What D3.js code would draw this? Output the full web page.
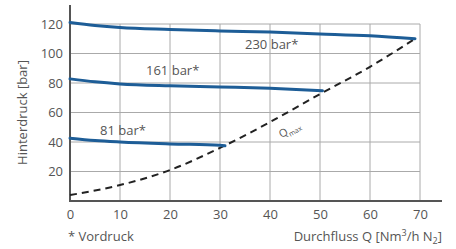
<!DOCTYPE html>
<html>
<head>
<meta charset="utf-8">
<script src="https://cdn.jsdelivr.net/npm/d3@7"></script>
<style>
  body { margin: 0; background: #fff; }
  text { font-family: "Open Sans", sans-serif; fill: #555; }
</style>
</head>
<body>
<div id="plot"></div>
<script>
// Values
var xTicks = [0, 10, 20, 30, 40, 50, 60, 70];
var yTicks = [20, 40, 60, 80, 100, 120];

var q230 = [0, 5, 10, 20, 30, 40, 50, 60, 69];
var p230 = [121, 119, 117.6, 116.3, 115.3, 114.5, 113.3, 112, 110];

var q161 = [0, 5, 10, 20, 30, 40, 50.5];
var p161 = [82.8, 80.8, 79.4, 78.1, 77.3, 76.4, 74.8];

var q81 = [0, 5, 10, 20, 30, 31];
var p81 = [42.6, 41, 40, 38.7, 37.8, 37.4];

var qMax = [0, 10, 20, 30, 40, 50, 60, 69];
var pMax = [4, 10.8, 21, 36, 53.5, 72.5, 91, 110];

var seriesLabels = ["230 bar*", "161 bar*", "81 bar*"];

var margin = {top: 24, right: 36, bottom: 48, left: 70},
    width = 456 - margin.left - margin.right,
    height = 249 - margin.top - margin.bottom;

var svg = d3.select("#plot")
  .append("svg")
    .attr("width", 456)
    .attr("height", 249)
  .append("g")
    .attr("transform", `translate(${margin.left},${margin.top})`);

var x = d3.scaleLinear().domain([0, 70]).range([0, 350]);
var y = d3.scaleLinear().domain([0, 120]).range([177, 0]);

// grid
svg.append("g")
  .selectAll("line.v")
  .data(xTicks.slice(1))
  .enter().append("line")
    .attr("x1", d => x(d)).attr("x2", d => x(d))
    .attr("y1", y(0)).attr("y2", y(120))
    .attr("stroke", "#aaa").attr("stroke-width", 1);
svg.append("g")
  .selectAll("line.h")
  .data(yTicks)
  .enter().append("line")
    .attr("x1", x(0)).attr("x2", x(70))
    .attr("y1", d => y(d)).attr("y2", d => y(d))
    .attr("stroke", "#aaa").attr("stroke-width", 1);

// axes
var xAxis = svg.append("g")
  .attr("transform", `translate(0,${y(0)})`)
  .call(d3.axisBottom(x).tickValues(xTicks).tickSize(0).tickPadding(9));
xAxis.select(".domain").remove();
xAxis.selectAll("text").style("font-size", "13px").attr("fill", "#555");

var yAxis = svg.append("g")
  .call(d3.axisLeft(y).tickValues(yTicks).tickSize(0).tickPadding(7));
yAxis.select(".domain").remove();
yAxis.selectAll("text").style("font-size", "13px").attr("fill", "#555");

svg.append("line")
  .attr("x1", 0).attr("x2", 372)
  .attr("y1", y(0)).attr("y2", y(0))
  .attr("stroke", "#555").attr("stroke-width", 2);
svg.append("line")
  .attr("x1", 0).attr("x2", 0)
  .attr("y1", y(0) + 1).attr("y2", -19)
  .attr("stroke", "#555").attr("stroke-width", 2);

// curves
var line = d3.line()
  .x(d => x(d[0]))
  .y(d => y(d[1]))
  .curve(d3.curveMonotoneX);

svg.append("path")
  .datum(d3.zip(qMax, pMax))
  .attr("fill", "none")
  .attr("stroke", "#222")
  .attr("stroke-width", 2)
  .attr("stroke-dasharray", "7,5")
  .attr("d", line);

[[q230, p230], [q161, p161], [q81, p81]].forEach(function(s) {
  svg.append("path")
    .datum(d3.zip(s[0], s[1]))
    .attr("fill", "none")
    .attr("stroke", "#1d5d97")
    .attr("stroke-width", 3)
    .attr("stroke-linecap", "round")
    .attr("d", line);
});

// labels
var labelPos = [[35, 103], [15.2, 85.5], [6, 44.5]];
svg.selectAll(".lbl")
  .data(seriesLabels)
  .enter().append("text")
    .attr("class", "lbl")
    .attr("x", (d, i) => x(labelPos[i][0]))
    .attr("y", (d, i) => y(labelPos[i][1]))
    .style("font-size", "13px")
    .text(d => d);

var qm = svg.append("text")
  .attr("transform", `translate(${x(42.3)},${y(42.5)}) rotate(-30)`)
  .style("font-size", "11px");
qm.append("tspan").text("Q");
qm.append("tspan").attr("dy", 3).style("font-size", "7px").text("max");

svg.append("text")
  .attr("transform", `translate(-43,${y(60)}) rotate(-90)`)
  .attr("text-anchor", "middle")
  .style("font-size", "13px")
  .text("Hinterdruck [bar]");

svg.append("text")
  .attr("x", -2)
  .attr("y", y(0) + 40)
  .style("font-size", "13px")
  .text("* Vordruck");

var xl = svg.append("text")
  .attr("x", 372)
  .attr("y", y(0) + 40)
  .attr("text-anchor", "end")
  .style("font-size", "13px");
xl.append("tspan").text("Durchfluss Q [Nm");
xl.append("tspan").attr("dy", -5).style("font-size", "9px").text("3");
xl.append("tspan").attr("dy", 5).text("/h N");
xl.append("tspan").attr("dy", 3).style("font-size", "9px").text("2");
xl.append("tspan").attr("dy", -3).text("]");
</script>
</body>
</html>
